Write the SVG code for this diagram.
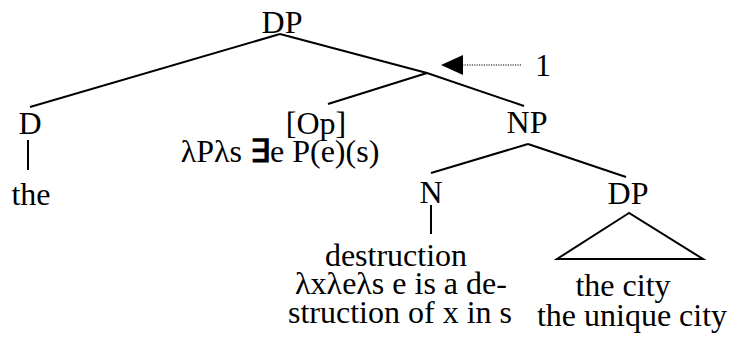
<svg xmlns="http://www.w3.org/2000/svg" width="730" height="346" viewBox="0 0 730 346">
<style>
  .t { font-family: "Liberation Serif", "Times New Roman", serif; font-size: 32px; fill: #000; text-anchor: middle; }
  .edge { stroke: #000; stroke-width: 2; fill: none; stroke-linecap: butt; }
  .dot { stroke: #000; stroke-width: 1.2; stroke-dasharray: 1.2 1.2; fill: none; }
  .ex { font-weight: bold; }
</style>
<defs>
  <marker id="tri" viewBox="0 0 22 20" refX="0" refY="10" markerWidth="22" markerHeight="20" markerUnits="userSpaceOnUse" orient="auto-start-reverse">
    <path d="M0,0 L22,10 L0,20 Z" fill="#000"/>
  </marker>
</defs>
<rect width="730" height="346" fill="#fff"/>
<g id="connectors">
  <path class="edge" d="M280,34 L30,107"/>
  <path class="edge" d="M280,34 L427,73 L524,106"/>
  <path class="edge" d="M427,73 L328,104"/>
  <path class="edge" d="M28,140 L28,170"/>
  <path class="edge" d="M528,144 L431,173"/>
  <path class="edge" d="M528,144 L626,177"/>
  <path class="edge" d="M431,205 L431,234"/>
  <path class="edge" d="M629,213 L557,259 L703,259 Z" stroke-linejoin="miter"/>
  <path class="dot" d="M521,65 L463,65" marker-end="url(#tri)"/>
</g>
<g id="node-dp-root"><text class="t" x="282" y="33">DP</text></g>
<g id="node-d"><text class="t" x="30" y="134">D</text></g>
<g id="node-the"><text class="t" x="31" y="205">the</text></g>
<g id="node-op">
  <text class="t" x="316" y="134">[Op]</text>
  <text class="t" x="280" y="162">λPλs <tspan class="ex">∃</tspan>e P(e)(s)</text>
</g>
<g id="node-np"><text class="t" x="527" y="133">NP</text></g>
<g id="node-n"><text class="t" x="431" y="203">N</text></g>
<g id="node-destruction">
  <text class="t" x="396" y="266">destruction</text>
  <text class="t" x="401" y="294">λxλeλs e is a de-</text>
  <text class="t" x="400" y="323">struction of x in s</text>
</g>
<g id="node-dp-city"><text class="t" x="628" y="204">DP</text></g>
<g id="node-the-city">
  <text class="t" x="623" y="296">the city</text>
  <text class="t" x="632" y="326">the unique city</text>
</g>
<g id="label-1"><text class="t" x="543" y="76">1</text></g>
</svg>
